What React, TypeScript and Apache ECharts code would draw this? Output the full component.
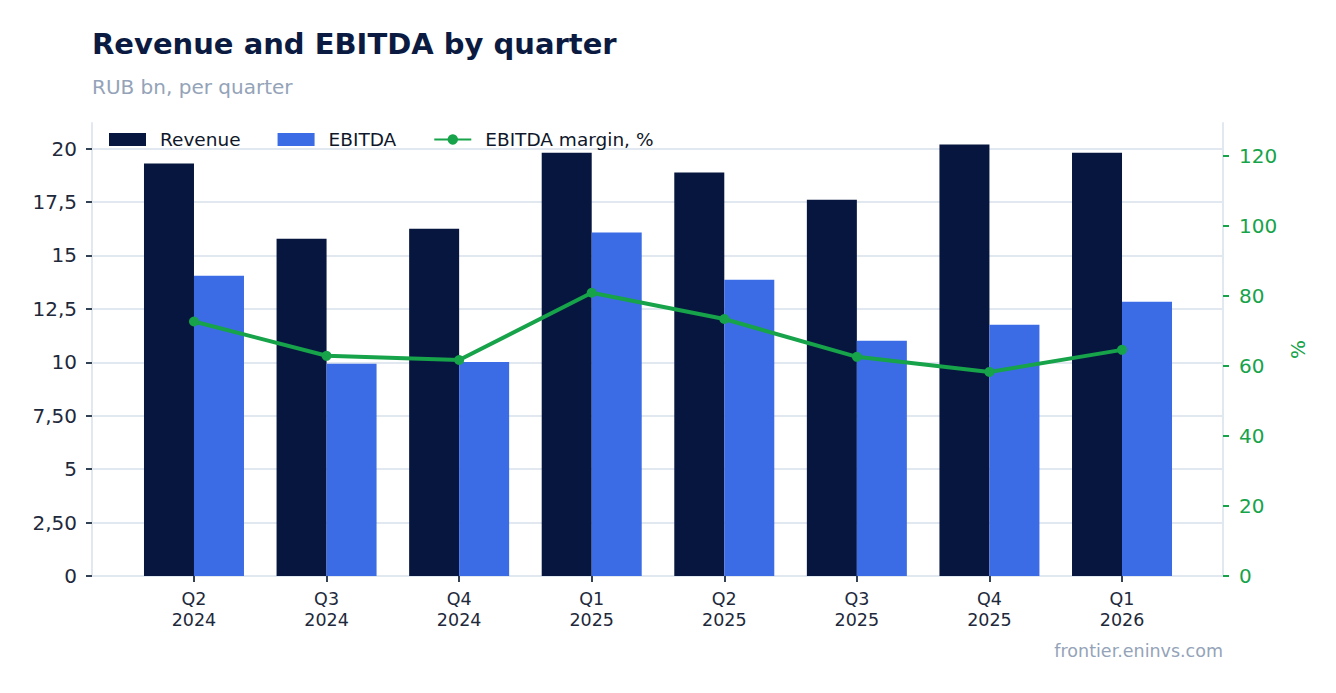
import React, { useEffect, useRef } from 'react';
import * as echarts from 'echarts';

const quarters = ['Q2\n2024', 'Q3\n2024', 'Q4\n2024', 'Q1\n2025', 'Q2\n2025', 'Q3\n2025', 'Q4\n2025', 'Q1\n2026'];
const revenue = [19.3, 15.78, 16.25, 19.81, 18.88, 17.61, 20.19, 19.81];
const ebitda = [14.05, 9.93, 10.02, 16.07, 13.86, 11.01, 11.76, 12.83];
const margin = [72.7, 62.9, 61.7, 80.9, 73.4, 62.6, 58.3, 64.6];

const leftTicks = [0, 2.5, 5, 7.5, 10, 12.5, 15, 17.5, 20];
const leftTickLabels = ['0', '2,50', '5', '7,50', '10', '12,5', '15', '17,5', '20'];
const rightTicks = [0, 20, 40, 60, 80, 100, 120];

const FONT = '"DejaVu Sans", sans-serif';
const NAVY = '#06163f';
const BLUE = '#3b6ce6';
const GREEN = '#16a34a';
const GRID_LINE = '#e2e8f0';

const LEFT_MAX = 21.2;
const RIGHT_MAX = 129.4;

const App: React.FC = () => {
  const chartRef = useRef<HTMLDivElement>(null);

  useEffect(() => {
    document.body.style.margin = '0';
    if (!chartRef.current) return;
    const chart = echarts.init(chartRef.current, null, { renderer: 'svg' });

    const leftLabel = (v: number) => {
      const i = leftTicks.indexOf(v);
      return i >= 0 ? leftTickLabels[i] : '';
    };

    const option: echarts.EChartsOption = {
      animation: false,
      backgroundColor: '#ffffff',
      textStyle: { fontFamily: FONT },
      title: [
        {
          text: 'Revenue and EBITDA by quarter',
          subtext: 'RUB bn, per quarter',
          left: 92,
          top: 29,
          padding: 0,
          itemGap: 19,
          textStyle: { fontFamily: FONT, fontSize: 29, fontWeight: 'bold', color: '#0b1a40' },
          subtextStyle: { fontFamily: FONT, fontSize: 20, color: '#94a3b8' }
        },
        {
          text: 'frontier.eninvs.com',
          right: 113,
          top: 642,
          padding: 0,
          textStyle: { fontFamily: FONT, fontSize: 17.5, fontWeight: 'normal', color: '#94a3b8' }
        }
      ],
      legend: {
        left: 109,
        top: 130,
        padding: 0,
        itemWidth: 37,
        itemHeight: 13,
        itemGap: 37,
        textStyle: { fontFamily: FONT, fontSize: 18.5, color: '#0f172a', padding: [0, 0, 0, 9] },
        data: [
          { name: 'Revenue', icon: 'rect' },
          { name: 'EBITDA', icon: 'rect' },
          { name: 'EBITDA margin, %' }
        ]
      },
      grid: [
        { left: 92, right: 113, top: 123, bottom: 117 },
        { left: 127.7, right: 147.7, top: 123, bottom: 117 }
      ],
      xAxis: [
        {
          type: 'category',
          gridIndex: 0,
          data: quarters,
          axisLine: { show: true, lineStyle: { color: GRID_LINE, width: 2 } },
          axisTick: { show: false },
          axisLabel: { show: false },
          splitLine: { show: false }
        },
        {
          type: 'category',
          gridIndex: 1,
          data: quarters,
          axisLine: { show: false },
          axisTick: { show: true, alignWithLabel: true, length: 6, lineStyle: { color: '#334155', width: 2 } },
          axisLabel: { fontFamily: FONT, fontSize: 17.5, lineHeight: 21.5, color: '#1e293b', margin: 12 },
          splitLine: { show: false }
        }
      ],
      yAxis: [
        {
          type: 'value',
          gridIndex: 0,
          position: 'left',
          min: 0,
          max: LEFT_MAX,
          interval: 2.5,
          axisLine: { show: true, lineStyle: { color: GRID_LINE, width: 2 } },
          axisTick: { show: true, length: 6, customValues: leftTicks, lineStyle: { color: '#334155', width: 2 } },
          axisLabel: {
            fontFamily: FONT,
            fontSize: 20,
            color: '#1e293b',
            margin: 15,
            customValues: leftTicks,
            formatter: (v: number) => leftLabel(v)
          },
          splitLine: { show: true, lineStyle: { color: GRID_LINE, width: 2 } }
        },
        {
          type: 'value',
          gridIndex: 0,
          position: 'right',
          min: 0,
          max: RIGHT_MAX,
          interval: 20,
          name: '%',
          nameLocation: 'middle',
          nameGap: 60,
          nameRotate: 90,
          nameTextStyle: { fontFamily: FONT, fontSize: 20, color: GREEN },
          axisLine: { show: true, lineStyle: { color: GRID_LINE, width: 2 } },
          axisTick: { show: true, length: 6, customValues: rightTicks, lineStyle: { color: GREEN, width: 2 } },
          axisLabel: {
            fontFamily: FONT,
            fontSize: 20,
            color: GREEN,
            margin: 16,
            customValues: rightTicks
          },
          splitLine: { show: false }
        },
        {
          type: 'value',
          gridIndex: 1,
          min: 0,
          max: LEFT_MAX,
          show: false
        },
        {
          type: 'value',
          gridIndex: 1,
          min: 0,
          max: RIGHT_MAX,
          show: false
        }
      ],
      series: [
        {
          name: 'Revenue',
          type: 'bar',
          xAxisIndex: 1,
          yAxisIndex: 2,
          data: revenue,
          barWidth: 50,
          barGap: '0%',
          itemStyle: { color: NAVY }
        },
        {
          name: 'EBITDA',
          type: 'bar',
          xAxisIndex: 1,
          yAxisIndex: 2,
          data: ebitda,
          barWidth: 50,
          barGap: '0%',
          itemStyle: { color: BLUE }
        },
        {
          name: 'EBITDA margin, %',
          type: 'line',
          xAxisIndex: 1,
          yAxisIndex: 3,
          data: margin,
          symbol: 'circle',
          symbolSize: 10,
          lineStyle: { color: GREEN, width: 4 },
          itemStyle: { color: GREEN },
          z: 5
        }
      ]
    };

    chart.setOption(option);

    return () => {
      chart.dispose();
    };
  }, []);

  return <div ref={chartRef} style={{ width: '1336px', height: '693px' }} />;
};

export default App;
